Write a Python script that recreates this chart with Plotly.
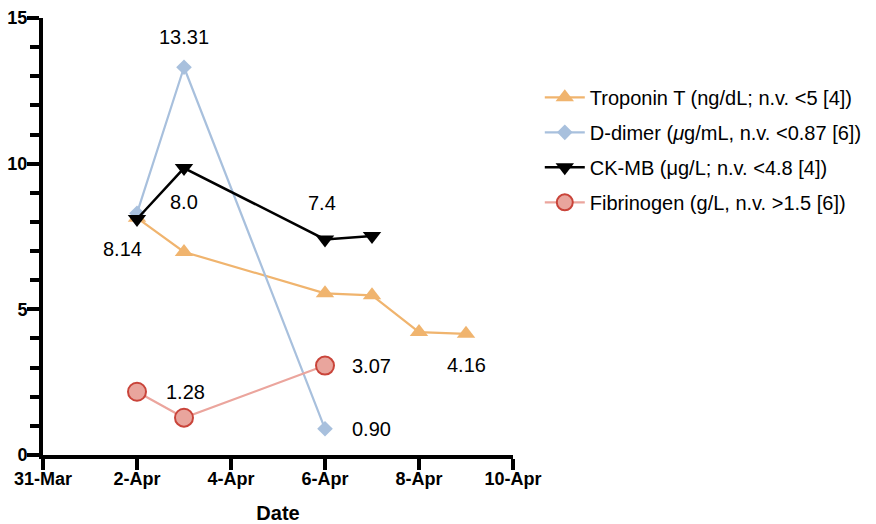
import plotly.graph_objects as go

# ---- data ----
trop_dates = ["2020-04-02", "2020-04-03", "2020-04-06", "2020-04-07", "2020-04-08", "2020-04-09"]
trop_vals = [8.14, 6.97, 5.55, 5.48, 4.22, 4.16]

ddim_dates = ["2020-04-02", "2020-04-03", "2020-04-06"]
ddim_vals = [8.3, 13.31, 0.90]

ckmb_dates = ["2020-04-02", "2020-04-03", "2020-04-06", "2020-04-07"]
ckmb_vals = [8.1, 9.85, 7.4, 7.52]

fib_dates = ["2020-04-02", "2020-04-03", "2020-04-06"]
fib_vals = [2.17, 1.28, 3.07]

names = [
    "Troponin T (ng/dL; n.v. &lt;5 [4])",
    "D-dimer (<i>μ</i>g/mL, n.v. &lt;0.87 [6])",
    "CK-MB (μg/L; n.v. &lt;4.8 [4])",
    "Fibrinogen (g/L, n.v. &gt;1.5 [6])",
]

# value labels: (date, value of point, label text)
label_dates = ["2020-04-03", "2020-04-03", "2020-04-02", "2020-04-06",
               "2020-04-03", "2020-04-06", "2020-04-06", "2020-04-09"]
label_vals = [13.31, 9.85, 8.14, 7.4, 1.28, 3.07, 0.90, 4.16]
label_texts = ["13.31", "8.0", "8.14", "7.4", "1.28", "3.07", "0.90", "4.16"]
label_xshift = [0, 0, -15, -3, 1, 46, 46, 0]
label_yshift = [30, -34, -31, 36, 26, 0, 0, -31]

FONT = "Liberation Sans, Arial, Helvetica"

fig = go.Figure()
fig.add_trace(go.Scatter(x=trop_dates, y=trop_vals, name=names[0], mode="lines+markers",
                         line=dict(color="#F0B46E", width=2.2),
                         marker=dict(symbol="triangle-up", size=16, color="#F0B46E"),
                         legendgroup="a"))
fig.add_trace(go.Scatter(x=ddim_dates, y=ddim_vals, name=names[1], mode="lines+markers",
                         line=dict(color="#A8C0DD", width=2.2),
                         marker=dict(symbol="diamond", size=12, color="#A8C0DD"),
                         legendgroup="b"))
fig.add_trace(go.Scatter(x=ckmb_dates, y=ckmb_vals, name=names[2], mode="lines+markers",
                         line=dict(color="#000000", width=2.5),
                         marker=dict(symbol="triangle-down", size=16, color="#000000"),
                         legendgroup="c"))
fig.add_trace(go.Scatter(x=fib_dates, y=fib_vals, name=names[3], mode="lines+markers",
                         line=dict(color="#EBA59D", width=2.2),
                         marker=dict(symbol="circle", size=18, color="#E9A59D",
                                     line=dict(color="#C9443A", width=2)),
                         legendgroup="d"))

for d, v, t, xs, ys in zip(label_dates, label_vals, label_texts, label_xshift, label_yshift):
    fig.add_annotation(x=d, y=v, text=t, showarrow=False, xshift=xs, yshift=ys,
                       font=dict(family=FONT, size=20, color="#000"))

fig.update_layout(
    width=876, height=524,
    margin=dict(l=43, r=363, t=18, b=69, autoexpand=False),
    plot_bgcolor="white", paper_bgcolor="white",
    font=dict(family=FONT, color="#000"),
    legend=dict(x=1.057, y=0.863, xanchor="left", yanchor="top",
                font=dict(size=20), tracegroupgap=6, itemwidth=40,
                bgcolor="rgba(0,0,0,0)"),
    xaxis=dict(
        type="date", range=["2020-03-31", "2020-04-10"],
        tick0="2020-03-31", dtick=2 * 86400000, tickformat="%-d-%b",
        showgrid=False, zeroline=False, automargin=False,
        showline=True, linecolor="#000", linewidth=4,
        ticks="outside", ticklen=11, tickwidth=4, tickcolor="#000",
        ticklabelstandoff=-7,
        tickfont=dict(size=18, weight="bold"),
        title=dict(text="Date", font=dict(size=20, weight="bold"), standoff=20),
    ),
    yaxis=dict(
        range=[0, 15], tickvals=[0, 5, 10, 15],
        showgrid=False, zeroline=False, automargin=False,
        showline=True, linecolor="#000", linewidth=4,
        ticks="outside", ticklen=12, tickwidth=4, tickcolor="#000",
        ticklabelstandoff=-4,
        tickfont=dict(size=18, weight="bold"),
        minor=dict(dtick=1, ticks="outside", ticklen=9, tickwidth=4, tickcolor="#000", showgrid=False),
    ),
)

fig.write_html("out.html", config={"displayModeBar": False},
               post_script="document.body.style.margin='0';")
